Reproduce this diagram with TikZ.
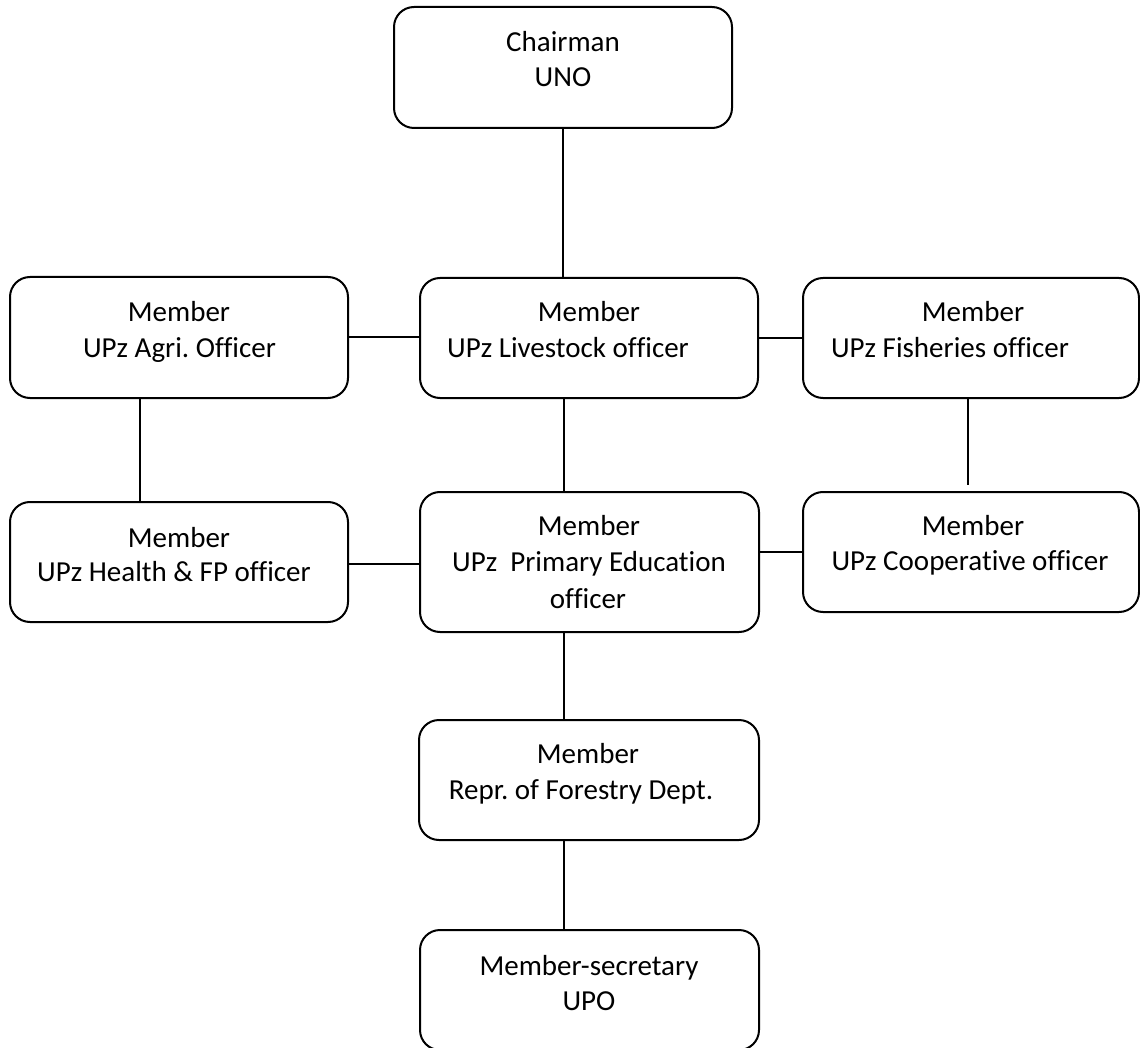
\documentclass[tikz,border=0pt]{standalone}
\usepackage{fontspec}
\setmainfont[Ligatures=NoCommon]{Carlito}
\frenchspacing
\usetikzlibrary{calc}
\tikzset{
  box/.style={draw=black, line width=2pt, rounded corners=20pt, rectangle, inner sep=0pt},
  txt/.style={anchor=base, inner sep=0pt, font=\fontsize{29}{35}\selectfont, text=black},
  link/.style={draw=black, line width=2pt}
}
\begin{document}
\begin{tikzpicture}[x=1pt,y=-1pt]
\useasboundingbox (0,0) rectangle (1140,1048);
\clip (0,0) rectangle (1140,1048);
% boxes
\node[box, minimum width=338pt, minimum height=121pt] (ch) at (563,67.5) {};
\node[box, minimum width=338pt, minimum height=121pt] (ag) at (179,337.5) {};
\node[box, minimum width=338pt, minimum height=120pt] (lv) at (589,338) {};
\node[box, minimum width=336pt, minimum height=120pt] (fi) at (971,338) {};
\node[box, minimum width=338pt, minimum height=120pt] (he) at (179,562) {};
\node[box, minimum width=339pt, minimum height=140pt] (pe) at (589.5,562) {};
\node[box, minimum width=336pt, minimum height=120pt] (co) at (971,552) {};
\node[box, minimum width=340pt, minimum height=120pt] (fo) at (589,780) {};
\node[box, minimum width=339pt, minimum height=120pt] (up) at (589.5,990) {};
% texts
\node[txt] (ch1) at (563,52) {Chairman};
\node[txt] (ch2) at (563,87) {UNO};
\node[txt] (ag1) at (179,322) {Member};
\node[txt] (ag2) at (179.5,357) {UPz Agri. Officer};
\node[txt] (lv1) at (589,322) {Member};
\node[txt] (lv2) at (568,357) {UPz Livestock officer};
\node[txt] (fi1) at (973,322) {Member};
\node[txt] (fi2) at (950,357) {UPz Fisheries officer};
\node[txt] (he1) at (179,547) {Member};
\node[txt] (he2) at (174,581) {UPz Health \& FP officer};
\node[txt] (pe1) at (589,535) {Member};
\node[txt] (pe2) at (589,571) {UPz\ \ Primary Education};
\node[txt] (pe3) at (588,608) {officer};
\node[txt] (co1) at (973,535) {Member};
\node[txt] (co2) at (970,570) {UPz Cooperative officer};
\node[txt] (fo1) at (588,763) {Member};
\node[txt] (fo2) at (581,799) {Repr. of Forestry Dept.};
\node[txt] (up1) at (589,975) {Member-secretary};
\node[txt] (up2) at (589,1010) {UPO};
% connectors
\draw[link] (ch.south) -- (ch.south |- lv.north);
\draw[link] (ag.east) -- (ag.east -| lv.west);
\draw[link] (lv.east) -- (lv.east -| fi.west);
\draw[link] ([xshift=-39pt]ag.south) -- ([xshift=-39pt]ag.south |- he.north);
\draw[link] ([xshift=-25pt]lv.south) -- ([xshift=-25pt]lv.south |- pe.north);
\coordinate (fiend) at ($([xshift=-3pt]fi.south |- co.north)+(0,-6)$);
\draw[link] ([xshift=-3pt]fi.south) -- (fiend);
\draw[link] ([yshift=-2pt]he.east) -- ([yshift=-2pt]he.east -| pe.west);
\draw[link] (pe.east |- co.west) -- (co.west);
\draw[link] ([xshift=-25.5pt]pe.south) -- ([xshift=-25.5pt]pe.south |- fo.north);
\draw[link] ([xshift=-25pt]fo.south) -- ([xshift=-25pt]fo.south |- up.north);
\end{tikzpicture}
\end{document}
